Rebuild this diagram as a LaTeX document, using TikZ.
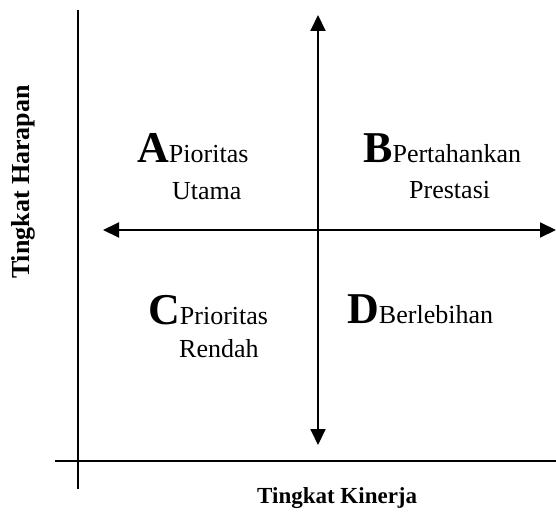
\documentclass[tikz,border=0pt]{standalone}
\usepackage{fontspec}
\setmainfont{Liberation Serif}
\usetikzlibrary{arrows.meta}
\newcommand{\BigLet}[1]{{\fontsize{44}{44}\selectfont\bfseries #1}}
\newcommand{\SmallTx}{\fontsize{26}{26}\selectfont}
\tikzset{
  axisline/.style={line width=2pt, black},
  dblarrow/.style={line width=2pt, black, {Triangle[length=16pt,width=15pt]}-{Triangle[length=16pt,width=15pt]}},
  lbl/.style={anchor=base west, inner sep=0pt, font=\SmallTx},
  axislbl/.style={inner sep=0pt, font=\bfseries}
}
\begin{document}
\begin{tikzpicture}[x=1pt,y=-1pt]
\useasboundingbox (0,0) rectangle (556,513);
% axes
\coordinate (vtop) at (78,10);
\coordinate (vbot) at (78,489);
\coordinate (hl) at (55,461);
\coordinate (hr) at (556,461);
\draw[axisline] (vtop) -- (vbot);
\draw[axisline] (hl) -- (hr);
% arrows
\coordinate (at) at (318,15);
\coordinate (ab) at (318,445);
\coordinate (al) at (103,230);
\coordinate (ar) at (556,230);
\draw[dblarrow] (ab) -- (at);
\draw[dblarrow] (al) -- (ar);
% quadrant labels
\node[lbl] (qa) at (137,163) {\BigLet{A}Pioritas};
\node[lbl] (qa2) at (172,199) {Utama};
\node[lbl] (qb) at (363,163) {\BigLet{B}Pertahankan};
\node[lbl] (qb2) at (409,198) {Prestasi};
\node[lbl] (qc) at (148,324) {\BigLet{C}Prioritas};
\node[lbl] (qc2) at (179,357) {Rendah};
\node[lbl] (qd) at (347,323) {\BigLet{D}Berlebihan};
% axis labels
\node[axislbl, anchor=base west, font=\fontsize{23}{23}\selectfont\bfseries] (xl) at (257,503) {Tingkat Kinerja};
\node[axislbl, anchor=base, rotate=90, font=\fontsize{26}{26}\selectfont\bfseries] (yl) at (29,182) {Tingkat Harapan};
\end{tikzpicture}
\end{document}
